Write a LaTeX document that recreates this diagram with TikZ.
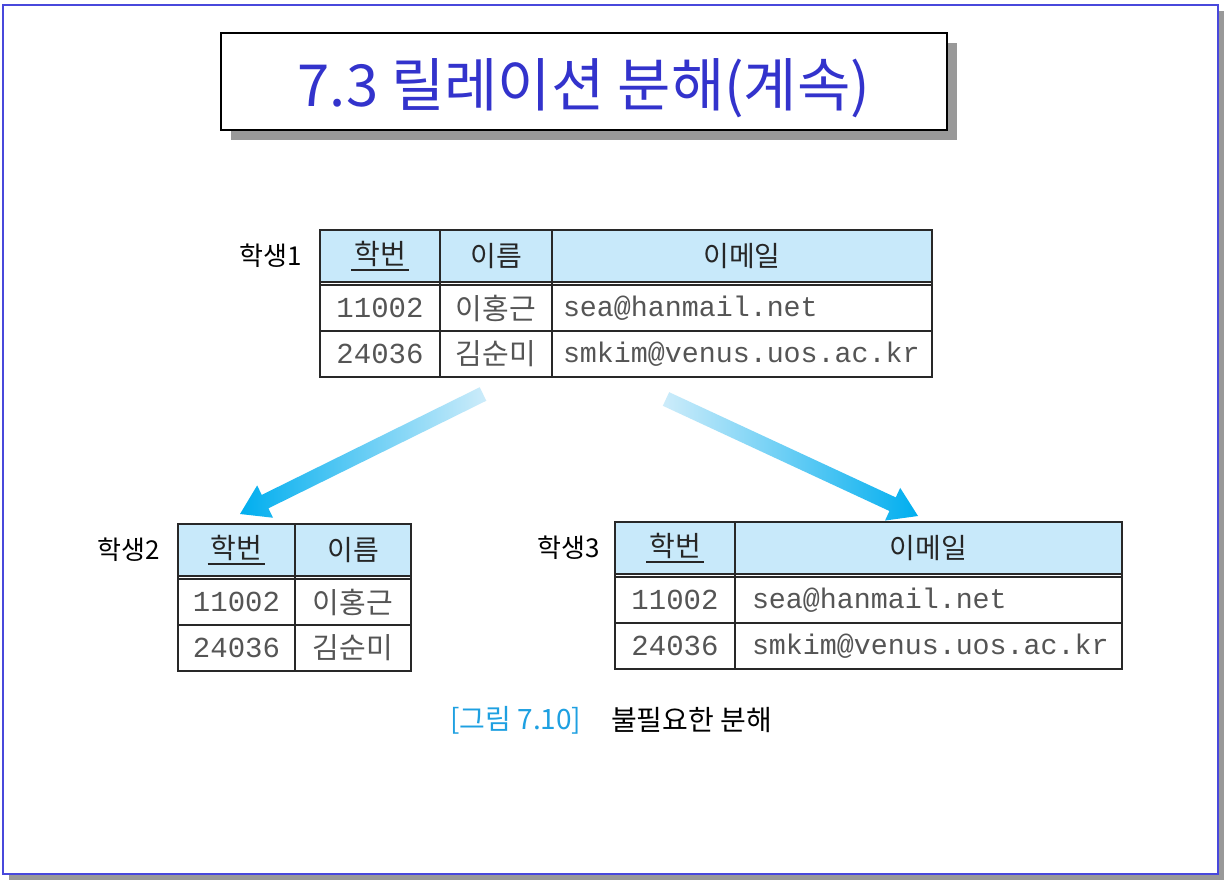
\documentclass[tikz,border=0pt]{standalone}
\usepackage{fontspec}
\setmainfont{Noto Sans CJK KR}
\newfontfamily\monofont{Liberation Mono}
\usetikzlibrary{calc,positioning,shadows}

\definecolor{framecol}{RGB}{72,72,220}
\definecolor{shadowcol}{RGB}{153,153,153}
\definecolor{titlecol}{RGB}{51,51,204}
\definecolor{headfill}{RGB}{200,233,250}
\definecolor{gridcol}{RGB}{40,40,40}
\definecolor{datacol}{RGB}{85,85,85}
\definecolor{arrowhi}{RGB}{0,174,239}
\definecolor{arrowlo}{RGB}{205,236,250}
\definecolor{capcol}{RGB}{30,160,225}

% underlined key attribute
\newcommand\pkey[1]{\setbox0=\hbox{#1}\rlap{\kern-3pt\rule[-6pt]{\dimexpr\wd0+6pt\relax}{1.6pt}}\box0}

\begin{document}
\begin{tikzpicture}[x=1pt, y=-1pt,
  ttlbox/.style={draw=black, line width=2.2pt, fill=white, minimum width=726,
                 minimum height=97, text=titlecol, font=\fontsize{58}{62}\selectfont,
                 drop shadow={shadow xshift=10pt, shadow yshift=-10pt,
                              fill=shadowcol, opacity=1}},
  lbl/.style={font=\fontsize{26}{28}\selectfont, inner sep=0pt},
  hd/.style={draw=gridcol, line width=1.5pt, fill=headfill, inner sep=0pt,
             outer sep=0pt, minimum height=52, font=\fontsize{28}{30}\selectfont,
             text=black!85},
  cl/.style={draw=gridcol, line width=1.5pt, inner sep=0pt, outer sep=0pt,
             minimum height=46, text=datacol},
  num/.style={cl, font=\monofont\fontsize{29}{30}\selectfont},
  nm/.style={cl, font=\fontsize{29}{30}\selectfont},
  mail/.style={cl, font=\monofont\fontsize{28.3}{30}\selectfont, align=left,
               inner xsep=11pt, text width=#1},
  gap/.style={draw=gridcol, line width=1.5pt},
  captn/.style={font=\fontsize{28}{30}\selectfont, anchor=west, inner sep=0pt}
]
\useasboundingbox (0,0) rectangle (1224,880);

% ---- page frame with shadow
\fill[shadowcol] (9,11) rectangle (1224,880);
\filldraw[fill=white, draw=framecol, line width=1.6pt] (3,5) rectangle (1218,874);

% ---- title
\node[ttlbox] (ttl) at (584,81.5)
  {\raisebox{-25pt}[0pt][0pt]{7.3 릴레이션 분해(계속)}};

% ---- table 1
\node[hd, minimum width=120] (s1h1) at (380,256) {\pkey{학번}};
\node[hd, minimum width=112] (s1h2) at (496,256) {이름};
\node[hd, minimum width=380] (s1h3) at (742,256) {이메일};
\node[num, minimum width=120] (s1a1) at (380,308) {11002};
\node[nm, minimum width=112]  (s1a2) at (496,308) {이홍근};
\node[mail=358pt]             (s1a3) at (742,308) {sea@hanmail.net};
\node[num, minimum width=120] (s1b1) at (380,354) {24036};
\node[nm, minimum width=112]  (s1b2) at (496,354) {김순미};
\node[mail=358pt]             (s1b3) at (742,354) {smkim@venus.uos.ac.kr};
\draw[gap] (s1h1.south west) -- (s1a1.north west);
\foreach \c in {1,2,3}
  \draw[gap] (s1h\c.south east) -- (s1a\c.north east);
\node[lbl, left=18pt of s1h1] (l1) {학생1};

% ---- table 2
\node[hd, minimum width=117] (s2h1) at (236.5,550) {\pkey{학번}};
\node[hd, minimum width=116] (s2h2) at (353,550) {이름};
\node[num, minimum width=117] (s2a1) at (236.5,602) {11002};
\node[nm, minimum width=116]  (s2a2) at (353,602) {이홍근};
\node[num, minimum width=117] (s2b1) at (236.5,648) {24036};
\node[nm, minimum width=116]  (s2b2) at (353,648) {김순미};
\draw[gap] (s2h1.south west) -- (s2a1.north west);
\foreach \c in {1,2}
  \draw[gap] (s2h\c.south east) -- (s2a\c.north east);
\node[lbl, left=18pt of s2h1] (l2) {학생2};

% ---- table 3
\node[hd, minimum width=120] (s3h1) at (675,548) {\pkey{학번}};
\node[hd, minimum width=387] (s3h2) at (928.5,548) {이메일};
\node[num, minimum width=120] (s3a1) at (675,600) {11002};
\node[mail=353pt, inner xsep=17pt] (s3a2) at (928.5,600) {sea@hanmail.net};
\node[num, minimum width=120] (s3b1) at (675,646) {24036};
\node[mail=353pt, inner xsep=17pt] (s3b2) at (928.5,646) {smkim@venus.uos.ac.kr};
\draw[gap] (s3h1.south west) -- (s3a1.north west);
\foreach \c in {1,2}
  \draw[gap] (s3h\c.south east) -- (s3a\c.north east);
\node[lbl, left=15pt of s3h1] (l3) {학생3};

% ---- decomposition arrows
\coordinate (aLt) at (483,394);
\coordinate (aLh) at (240,514);
\coordinate (aRt) at (666,399);
\coordinate (aRh) at (918,516);
\foreach \t/\h/\lc/\rc in {aLt/aLh/arrowhi/arrowlo, aRt/aRh/arrowlo/arrowhi}{
  \coordinate (nk) at ($(\h)!28pt!(\t)$);
  \shade[left color=\lc, right color=\rc]
    ($(\t)!7.5pt!90:(\h)$) -- ($(nk)!7.5pt!90:(\h)$) -- ($(nk)!18pt!90:(\h)$) -- (\h)
    -- ($(nk)!18pt!-90:(\h)$) -- ($(nk)!7.5pt!-90:(\h)$) -- ($(\t)!7.5pt!-90:(\h)$) -- cycle;
}

% ---- caption
\node[captn, text=capcol] (capnum) at (450,720) {[그림 7.10]};
\node[captn] (captxt) at (611,720) {불필요한 분해};
\end{tikzpicture}
\end{document}
